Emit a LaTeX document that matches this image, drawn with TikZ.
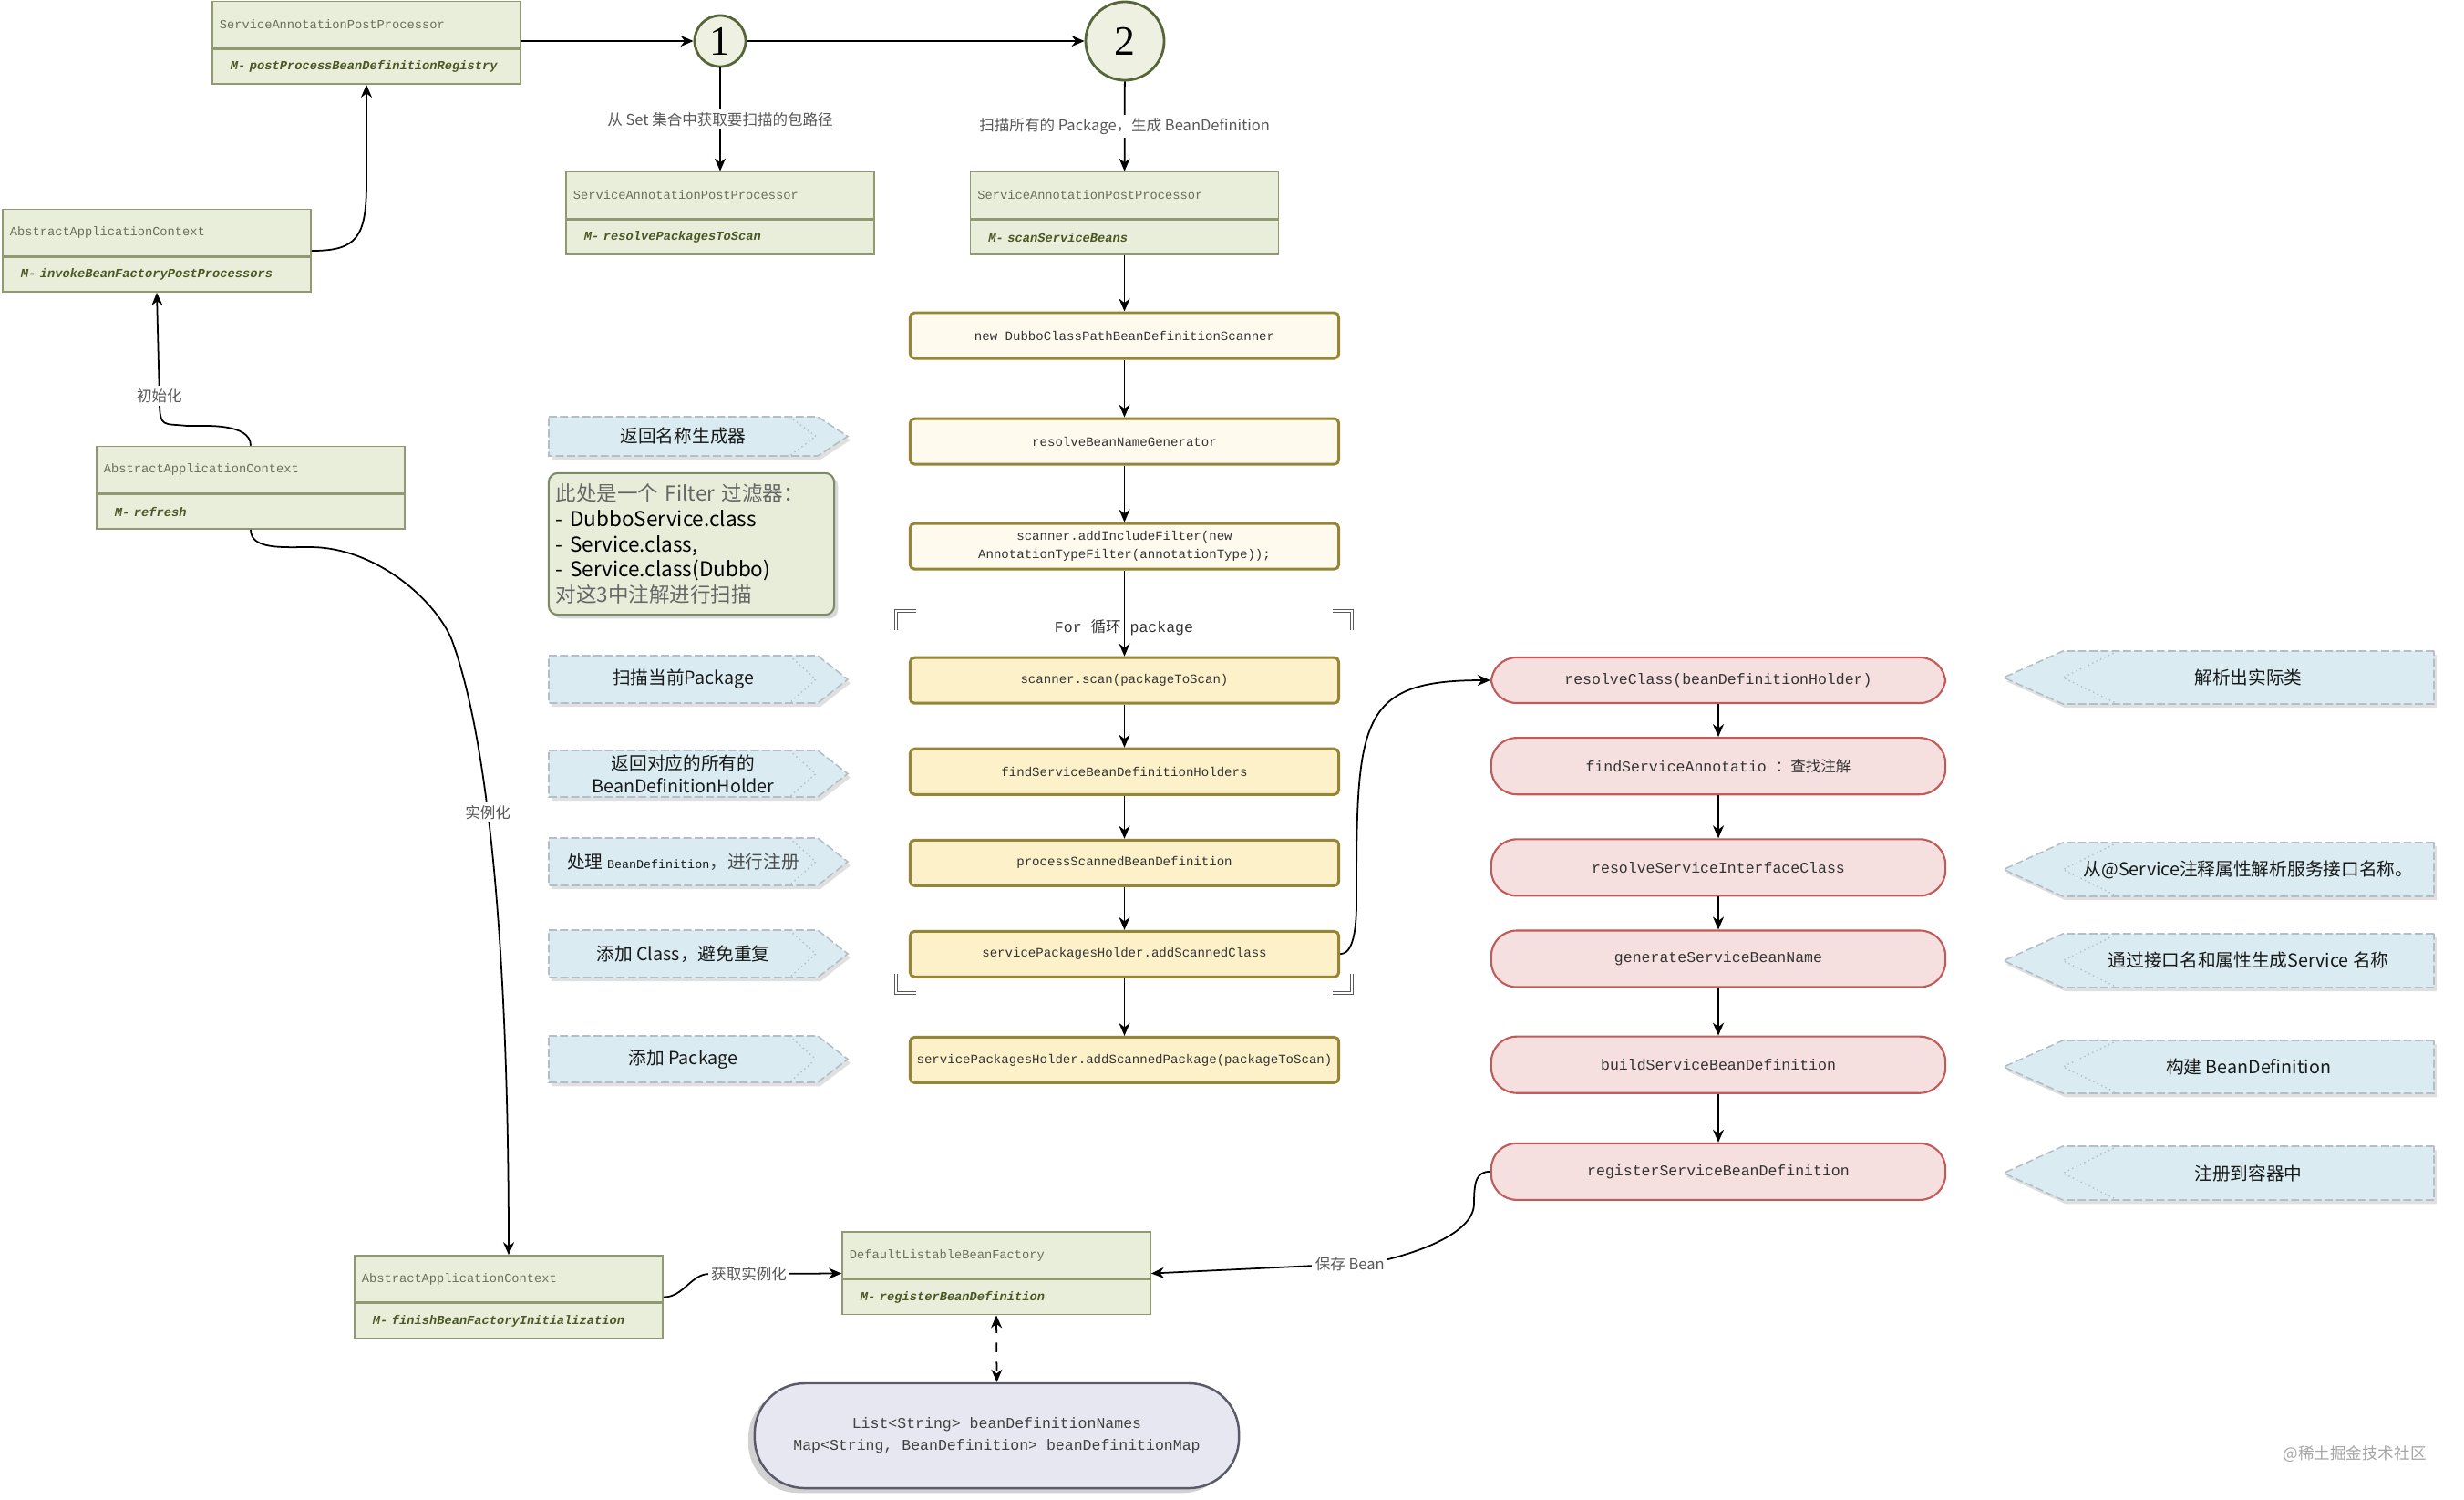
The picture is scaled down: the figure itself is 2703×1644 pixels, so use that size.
\documentclass[tikz,border=0pt]{standalone}
\usepackage{fontspec}
\setmainfont{Noto Sans CJK SC}
\newfontfamily\codefont{Liberation Mono}
\newfontfamily\numfont{Liberation Serif}
\usepackage{xcolor}
\usetikzlibrary{arrows.meta,positioning,shadows}

\definecolor{clsfill}{HTML}{E9EEDB}
\definecolor{clsline}{HTML}{8F9A73}
\definecolor{clstext}{HTML}{6B7058}
\definecolor{clsmtext}{HTML}{4A5824}
\definecolor{circfill}{HTML}{EEF1E1}
\definecolor{circline}{HTML}{56653A}
\definecolor{ylight}{HTML}{FEFAEE}
\definecolor{ydeep}{HTML}{FDF1CA}
\definecolor{yline}{HTML}{958534}
\definecolor{svcfill}{HTML}{F5DFDF}
\definecolor{svcline}{HTML}{C25A5A}
\definecolor{tagfill}{HTML}{DAECF2}
\definecolor{tagedge}{HTML}{B4BEC6}
\definecolor{notefill}{HTML}{E8EDDA}
\definecolor{noteline}{HTML}{7E8B66}
\definecolor{storefill}{HTML}{E7E7F1}
\definecolor{storeline}{HTML}{5A5A6A}

% chevron tags: name, top, bottom, text
\newcommand\lefttag[4]{%
  \draw[tagline, tagshade] (602,#2) -- (897,#2) -- (930,{(#2+#3)/2}) -- (897,#3) -- (602,#3) -- cycle;
  \draw[taginner] (866,#2) -- (895,{(#2+#3)/2}) -- (866,#3);
  \node[tagtext] (#1) at (749.5,{(#2+#3)/2}) {#4};}
\newcommand\righttag[4]{%
  \draw[tagline, tagshade] (2670,#2) -- (2263,#2) -- (2198,{(#2+#3)/2}) -- (2263,#3) -- (2670,#3) -- cycle;
  \draw[taginner] (2323,#2) -- (2263,{(#2+#3)/2}) -- (2323,#3);
  \node[tagtext] (#1) at (2466.5,{(#2+#3)/2}) {#4};}

\begin{document}
\begin{tikzpicture}[
  x=0.01cm, y=-0.01cm,
  clshead/.style={draw=clsline, fill=clsfill, line width=0.45pt, text width=3.22cm,
                  inner xsep=0.08cm, inner ysep=0pt, minimum height=0.51cm, align=left,
                  text=clstext, font=\codefont\fontsize{3.9}{4.5}\selectfont},
  clsrow/.style={clshead, minimum height=0.38cm, text=clsmtext,
                 font=\codefont\bfseries\itshape\fontsize{3.9}{4.5}\selectfont},
  numcirc/.style={circle, draw=circline, fill=circfill, line width=0.8pt, inner sep=0pt,
                  font=\numfont\fontsize{13}{13}\selectfont},
  codebox/.style={draw=yline, line width=0.85pt, rounded corners=0.05cm, minimum width=4.7cm,
                  minimum height=0.50cm, inner sep=1pt, align=center, text=black!80,
                  font=\codefont\fontsize{4}{5.6}\selectfont},
  svcbox/.style={draw=svcline, fill=svcfill, line width=0.6pt, rounded corners=0.28cm,
                 minimum width=4.98cm, minimum height=0.62cm, text=black!80,
                 font=\codefont\fontsize{4.7}{5.5}\selectfont},
  tagline/.style={draw=tagedge, dash pattern=on 2.5pt off 1pt, line width=0.45pt, fill=tagfill},
  tagshade/.style={drop shadow={shadow xshift=0.8pt, shadow yshift=-1.2pt, opacity=0.2, fill=black!60}},
  taginner/.style={draw=tagedge, densely dotted, line width=0.4pt},
  tagtext/.style={align=center, inner sep=0pt, text=black!90, font=\fontsize{5.6}{7.2}\selectfont},
  notebox/.style={draw=noteline, fill=notefill, rounded corners=0.1cm, line width=0.6pt,
                  text width=2.97cm, inner xsep=0.08cm, minimum height=1.51cm, align=left,
                  font=\fontsize{6.4}{7.9}\selectfont,
                  drop shadow={shadow xshift=1.2pt, shadow yshift=-1.2pt, opacity=0.3}},
  store/.style={draw=storeline, fill=storefill, line width=0.7pt, rounded corners=0.55cm,
                minimum width=5.31cm, minimum height=1.15cm, align=center, text=black!75,
                font=\codefont\fontsize{4.7}{6.8}\selectfont,
                drop shadow={shadow xshift=-2pt, shadow yshift=-1.5pt, opacity=0.35}},
  edgelbl/.style={fill=white, inner sep=1pt, text=black!65, font=\fontsize{4.7}{5.5}\selectfont},
  looplbl/.style={inner sep=0pt, text=black!80, font=\codefont\fontsize{4.7}{5.5}\selectfont},
  loopmark/.style={draw=black!65, double=white, double distance=0.5pt, line width=0.4pt},
  arr/.style={-{Stealth[length=1.4mm,width=1.2mm]}, line width=0.5pt}
]
\fill[white] (0,0) rectangle (2703,1644);
\useasboundingbox (0,0) rectangle (2703,1644);

% class boxes
\node[clshead] (posth) at (402,27) {ServiceAnnotationPostProcessor};
\node[clsrow, below=0pt of posth] (postm) {\hspace*{1.2mm}M- postProcessBeanDefinitionRegistry};
\node[clshead] (rptsh) at (790,214) {ServiceAnnotationPostProcessor};
\node[clsrow, below=0pt of rptsh] (rptsm) {\hspace*{1.2mm}M- resolvePackagesToScan};
\node[clshead] (ssbh) at (1233.5,214) {ServiceAnnotationPostProcessor};
\node[clsrow, below=0pt of ssbh] (ssbm) {\hspace*{1.2mm}M- scanServiceBeans};
\node[clshead] (invkh) at (172,255) {AbstractApplicationContext};
\node[clsrow, below=0pt of invkh] (invkm) {\hspace*{1.2mm}M- invokeBeanFactoryPostProcessors};
\node[clshead] (refrh) at (275,515) {AbstractApplicationContext};
\node[clsrow, below=0pt of refrh] (refrm) {\hspace*{1.2mm}M- refresh};
\node[clshead] (finh) at (558,1402.5) {AbstractApplicationContext};
\node[clsrow, below=0pt of finh] (finm) {\hspace*{1.2mm}M- finishBeanFactoryInitialization};
\node[clshead] (dlbfh) at (1093,1376.5) {DefaultListableBeanFactory};
\node[clsrow, below=0pt of dlbfh] (dlbfm) {\hspace*{1.2mm}M- registerBeanDefinition};

% steps 1 and 2
\node[numcirc, minimum size=0.56cm] (c1) at (790,45) {1};
\node[numcirc, minimum size=0.86cm] (c2) at (1234,45) {2};

% scan chain
\node[codebox, fill=ylight] (y1) at (1233.5,368) {new DubboClassPathBeanDefinitionScanner};
\node[codebox, fill=ylight, below=0.63cm of y1] (y2) {resolveBeanNameGenerator};
\node[codebox, fill=ylight, below=0.62cm of y2] (y3)
  {scanner.addIncludeFilter(new\\ AnnotationTypeFilter(annotationType));};
\node[codebox, fill=ydeep, below=0.94cm of y3] (y4) {scanner.scan(packageToScan)};
\node[codebox, fill=ydeep, below=0.47cm of y4] (y5) {findServiceBeanDefinitionHolders};
\node[codebox, fill=ydeep, below=0.47cm of y5] (y6) {processScannedBeanDefinition};
\node[codebox, fill=ydeep, below=0.47cm of y6] (y7) {servicePackagesHolder.addScannedClass};
\node[codebox, fill=ydeep, below=0.63cm of y7] (y8) {servicePackagesHolder.addScannedPackage(packageToScan)};
\node[looplbl] (forlbl) at (1233,688) {For {\rmfamily 循环} package};
\draw[loopmark] (1005,670) -- (983,670) -- (983,691);
\draw[loopmark] (1462,670) -- (1483,670) -- (1483,691);
\draw[loopmark] (983,1068) -- (983,1089) -- (1005,1089);
\draw[loopmark] (1483,1068) -- (1483,1089) -- (1462,1089);

% service bean chain
\node[svcbox, minimum height=0.50cm] (p1) at (1885,746) {resolveClass(beanDefinitionHolder)};
\node[svcbox, below=0.36cm of p1] (p2) {findServiceAnnotatio {\rmfamily ：查找注解}};
\node[svcbox, below=0.47cm of p2] (p3) {resolveServiceInterfaceClass};
\node[svcbox, below=0.36cm of p3] (p4) {generateServiceBeanName};
\node[svcbox, below=0.52cm of p4] (p5) {buildServiceBeanDefinition};
\node[svcbox, below=0.53cm of p5] (p6) {registerServiceBeanDefinition};

\node[store] (store) at (1093.5,1574.5)
  {List<String> beanDefinitionNames\\ Map<String, BeanDefinition> beanDefinitionMap};

% notes
\lefttag{tname}{457}{500}{返回名称生成器}
\node[notebox] (filt) at (758.5,596.5)
  {{\color{black!60}此处是一个 Filter 过滤器：}\\- DubboService.class\\- Service.class,\\- Service.class(Dubbo)\\{\color{black!60}对这3中注解进行扫描}};
\lefttag{tscan}{719}{771}{扫描当前Package}
\lefttag{thold}{823}{874}{返回对应的所有的\\BeanDefinitionHolder}
\lefttag{tproc}{919}{971}{处理 {\codefont\fontsize{3.8}{4.5}\selectfont BeanDefinition}{\color{black!70}，进行注册}}
\lefttag{tcls}{1020}{1072}{添加 Class，避免重复}
\lefttag{tpkg}{1136}{1187}{添加 Package}
\righttag{tres}{714}{772}{解析出实际类}
\righttag{tiface}{924}{983}{从@Service注释属性解析服务接口名称。}
\righttag{tbname}{1024}{1083}{通过接口名和属性生成Service 名称}
\righttag{tbuild}{1141}{1199}{构建 BeanDefinition}
\righttag{treg}{1257}{1316}{注册到容器中}

% connectors
\draw[arr] (c1.west -| posth.east) -- (c1);
\draw[arr] (c1) -- (c2);
\draw[arr] (c1) -- (rptsh) node[edgelbl, midway] {从 Set 集合中获取要扫描的包路径};
\draw[arr] (c2) -- (ssbh) node[edgelbl, midway] {扫描所有的 Package，生成 BeanDefinition};
\draw[arr] (ssbm) -- (y1);
\draw[arr] (y1) -- (y2);
\draw[arr] (y2) -- (y3);
\draw[arr] (y3) -- (y4);
\draw[arr] (y4) -- (y5);
\draw[arr] (y5) -- (y6);
\draw[arr] (y6) -- (y7);
\draw[arr] (y7) -- (y8);
\draw[arr] (p1) -- (p2);
\draw[arr] (p2) -- (p3);
\draw[arr] (p3) -- (p4);
\draw[arr] (p4) -- (p5);
\draw[arr] (p5) -- (p6);
\draw[arr] (y7.east) .. controls +(14,0) and +(0,30) .. (1488,990)
  .. controls +(0,-200) and +(-145,0) .. (p1.west);
\draw[arr] ([yshift=-2mm]invkh.east) .. controls +(50,0) and +(0,60) .. (402,200) -- (postm.south);
\draw[arr] (refrh.north) .. controls +(0,-25) and +(20,0) .. (205,467)
  .. controls +(-25,-3) and +(0,30) .. (175,440)
  -- (invkm.south) node[edgelbl, pos=0.05] {初始化};
\draw[arr] (refrm.south) .. controls +(0,22) and +(-30,0) .. (340,600)
  .. controls +(70,0) and +(-20,-45) .. (495,700)
  .. controls +(45,120) and +(0,-300) .. (finh.north) node[edgelbl, pos=0.38] {实例化};
\draw[arr] ([yshift=-2mm]finh.east) .. controls +(22,0) and +(-20,0) .. (778,1397)
  -- ([yshift=-2mm]dlbfh.west) node[edgelbl, pos=0.3] {获取实例化};
\draw[arr] (p6.west) .. controls +(-15,0) and +(0,-25) .. (1617,1320)
  .. controls +(0,35) and +(40,-8) .. (1505,1385)
  -- ([yshift=-2mm]dlbfh.east) node[edgelbl, pos=0.1] {保存 Bean};
\draw[{Stealth[length=1.4mm,width=1.2mm]}-{Stealth[length=1.4mm,width=1.2mm]}, dashed, line width=0.5pt]
  (dlbfm.south) -- (store.north);

\node[text=black!35, font=\fontsize{5}{6}\selectfont] (mark) at (2583,1595) {@稀土掘金技术社区};
\end{tikzpicture}
\end{document}
